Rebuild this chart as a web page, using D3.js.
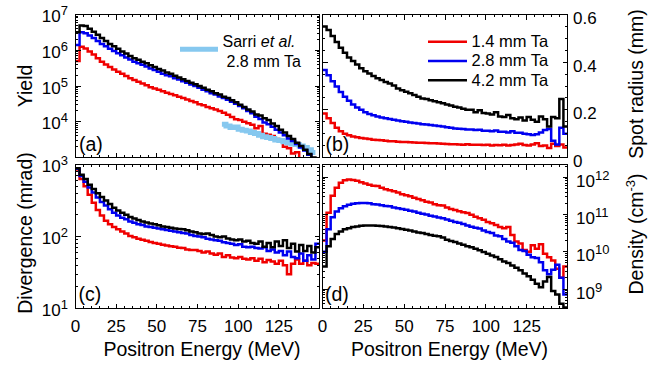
<!DOCTYPE html>
<html>
<head>
<meta charset="utf-8">
<script src="https://cdn.jsdelivr.net/npm/d3@7"></script>
<style>
  body { margin: 0; background: #fff; }
  svg { font-family: "Liberation Sans", Arial, Helvetica, sans-serif; }
</style>
</head>
<body>
<svg id="chart" width="662" height="365"></svg>
<script>
// energy bins (MeV), left edges of 2.5 MeV bins
const energy = [0,2.5,5,7.5,10,12.5,15,17.5,20,22.5,25,27.5,30,32.5,35,37.5,40,42.5,45,47.5,
  50,52.5,55,57.5,60,62.5,65,67.5,70,72.5,75,77.5,80,82.5,85,87.5,90,92.5,95,97.5,
  100,102.5,105,107.5,110,112.5,115,117.5,120,122.5,125,127.5,130,132.5,135,137.5,140,142.5,145,147.5];
const binWidth = 2.5;
const targets = ["1.4 mm Ta", "2.8 mm Ta", "4.2 mm Ta"];

// (a) yield
const yieldRed = [5.0e5,1.26e6,1.12e6,9.3e5,7.6e5,6.0e5,4.8e5,4.0e5,3.4e5,2.9e5,
  2.5e5,2.2e5,1.9e5,1.66e5,1.48e5,1.32e5,1.17e5,1.05e5,9.3e4,8.5e4,
  7.8e4,7.1e4,6.5e4,6.0e4,5.5e4,5.0e4,4.6e4,4.2e4,3.8e4,3.5e4,
  3.1e4,2.9e4,2.6e4,2.4e4,2.2e4,2.0e4,1.78e4,1.58e4,1.35e4,1.17e4,
  1.12e4,1.0e4,9.1e3,8.3e3,6.6e3,7.6e3,4.6e3,4.3e3,4.0e3,3.3e3,
  2.75e3,2.0e3,1.8e3,1.3e3,1.4e3,8e2];
const yieldBlue = [1.4e6,3.2e6,3.0e6,2.6e6,2.2e6,1.8e6,1.5e6,1.3e6,1.1e6,9.5e5,
  8.3e5,7.2e5,6.3e5,5.5e5,4.8e5,4.3e5,3.9e5,3.5e5,3.1e5,2.8e5,
  2.5e5,2.2e5,2.0e5,1.86e5,1.66e5,1.51e5,1.35e5,1.23e5,1.1e5,1.0e5,
  8.9e4,7.9e4,7.1e4,6.3e4,5.8e4,5.1e4,4.6e4,4.1e4,3.6e4,3.2e4,
  2.75e4,2.4e4,2.0e4,1.74e4,1.38e4,1.2e4,9.5e3,8.5e3,7.2e3,6.0e3,
  5.0e3,4.2e3,3.4e3,2.9e3,2.4e3,1.9e3,1.58e3,1.2e3,9.5e2,8e2];
const yieldBlack = [3.2e6,4.9e6,4.8e6,4.0e6,3.3e6,2.7e6,2.2e6,1.8e6,1.5e6,1.3e6,
  1.1e6,9.3e5,8.1e5,6.9e5,6.0e5,5.4e5,4.8e5,4.3e5,3.8e5,3.4e5,
  3.0e5,2.7e5,2.4e5,2.2e5,1.95e5,1.74e5,1.55e5,1.38e5,1.23e5,1.12e5,
  1.0e5,8.9e4,7.8e4,7.1e4,6.3e4,5.8e4,5.0e4,4.6e4,4.0e4,3.5e4,
  3.0e4,2.6e4,2.2e4,1.95e4,1.6e4,1.5e4,1.26e4,1.12e4,8.9e3,7.6e3,
  6.0e3,5.0e3,4.0e3,3.3e3,2.6e3,2.1e3,1.66e3,1.26e3,1.0e3,8e2];
const sarriEnergy = [90,92.5,95,97.5,100,102.5,105,107.5,110,112.5,115,117.5,120,122.5,125,127.5,130,132.5,135,137.5,140,142.5,145];
const sarriYield = [8.5e3,7.6e3,6.9e3,7.1e3,6.2e3,5.8e3,5.5e3,5.0e3,4.7e3,4.2e3,3.8e3,3.6e3,
  3.4e3,3.1e3,3.0e3,2.75e3,2.6e3,2.4e3,2.3e3,2.1e3,1.9e3,1.66e3,1.38e3];

// (b) spot radius (mm)
const spotRed = [0.185,0.165,0.145,0.125,0.11,0.1,0.093,0.088,0.085,0.082,
  0.08,0.078,0.075,0.073,0.072,0.07,0.068,0.068,0.066,0.065,
  0.065,0.064,0.063,0.062,0.062,0.061,0.06,0.06,0.059,0.058,
  0.057,0.056,0.056,0.055,0.054,0.056,0.054,0.053,0.054,0.052,
  0.053,0.05,0.052,0.051,0.053,0.05,0.052,0.055,0.058,0.052,
  0.05,0.055,0.06,0.048,0.05,0.04,0.058,0.048,0.055,0.042];
const spotBlue = [0.367,0.345,0.32,0.298,0.275,0.255,0.238,0.222,0.21,0.2,
  0.19,0.183,0.177,0.172,0.168,0.165,0.162,0.158,0.155,0.152,
  0.15,0.147,0.145,0.143,0.14,0.138,0.136,0.134,0.132,0.13,
  0.127,0.125,0.122,0.121,0.12,0.118,0.118,0.115,0.116,0.112,
  0.112,0.11,0.113,0.108,0.108,0.105,0.11,0.104,0.104,0.1,
  0.098,0.094,0.098,0.105,0.115,0.12,0.07,0.055,0.125,0.1];
const spotBlack = [0.55,0.535,0.51,0.485,0.46,0.44,0.42,0.405,0.39,0.375,
  0.362,0.352,0.342,0.333,0.325,0.317,0.31,0.302,0.29,0.282,
  0.276,0.27,0.262,0.255,0.248,0.245,0.24,0.236,0.232,0.228,
  0.222,0.218,0.213,0.21,0.205,0.2,0.2,0.19,0.198,0.187,
  0.185,0.18,0.19,0.172,0.17,0.178,0.165,0.16,0.168,0.155,
  0.17,0.158,0.15,0.172,0.16,0.13,0.17,0.165,0.245,0.13];

// (c) divergence (mrad)
const divRed = [850,630,500,380,295,234,195,166,148,135,
  126,117,110,102,98,93,90,87,84,81,
  79,77,75,73,72,70,69,66,65,65,
  63,60,62,58,56,58,52,55,51,50,
  52,49,48,50,46,49,44,47,45,42,
  46,40,30,42,48,42,46,40,43,42];
const divBlue = [870,690,575,479,407,347,302,269,240,214,
  195,182,174,162,155,148,145,138,135,132,
  129,126,123,120,117,115,112,110,105,102,
  100,98,93,91,89,87,83,81,79,76,
  78,72,71,72,69,68,71,63,66,60,
  63,55,62,52,50,58,46,55,48,79];
const divBlack = [890,720,630,525,457,398,355,316,282,251,
  229,214,200,186,178,170,162,157,151,148,
  143,138,135,132,129,127,126,122,117,115,
  110,108,110,105,100,98,100,94,91,89,
  91,85,87,81,79,85,72,81,71,85,
  74,89,69,79,62,76,63,74,60,71];

// (d) density (cm^-3)
const densRed = [2.0e10,1.12e11,3.2e11,5.2e11,7.1e11,8.3e11,8.7e11,8.5e11,8.1e11,7.4e11,
  6.8e11,6.3e11,5.9e11,5.8e11,5.2e11,4.8e11,4.5e11,4.2e11,3.9e11,3.5e11,
  3.3e11,3.1e11,2.8e11,2.6e11,2.4e11,2.2e11,2.1e11,1.9e11,1.78e11,1.74e11,
  1.55e11,1.41e11,1.32e11,1.23e11,1.15e11,1.1e11,9.8e10,8.7e10,7.9e10,7.2e10,
  6.3e10,5.8e10,5.2e10,4.6e10,4.3e10,4.6e10,2.8e10,1.9e10,1.66e10,1.12e10,
  1.0e10,1.5e10,1.2e10,1.58e10,8.9e9,7.1e9,5.8e9,3.5e9,2.0e9,4.0e9];
const densBlue = [1.0e10,4.0e10,8.5e10,1.2e11,1.48e11,1.66e11,1.82e11,1.95e11,2.0e11,2.04e11,
  2.04e11,2.0e11,1.9e11,1.86e11,1.78e11,1.7e11,1.66e11,1.55e11,1.48e11,1.41e11,
  1.35e11,1.26e11,1.2e11,1.12e11,1.05e11,1.0e11,9.3e10,8.9e10,8.3e10,7.9e10,
  7.4e10,6.8e10,6.3e10,6.0e10,5.6e10,5.1e10,4.7e10,4.4e10,4.2e10,3.7e10,
  3.4e10,3.2e10,2.75e10,2.6e10,2.2e10,1.9e10,1.74e10,1.41e10,1.12e10,1.05e10,
  8.3e9,7.1e9,6.8e9,5.2e9,3.2e9,2.5e9,3.3e9,4.5e9,2.0e9,7.1e8];
const densBlack = [4.0e9,1.41e10,2.2e10,3.0e10,3.5e10,4.0e10,4.3e10,4.6e10,4.8e10,5.0e10,
  5.1e10,5.1e10,5.1e10,5.0e10,4.9e10,4.8e10,4.6e10,4.5e10,4.3e10,4.1e10,
  3.9e10,3.7e10,3.5e10,3.3e10,3.2e10,3.0e10,2.8e10,2.7e10,2.6e10,2.4e10,
  2.1e10,1.95e10,1.82e10,1.66e10,1.55e10,1.41e10,1.32e10,1.2e10,1.1e10,9.8e9,
  8.9e9,7.9e9,7.2e9,6.3e9,5.5e9,5.0e9,4.3e9,3.7e9,3.2e9,2.6e9,
  2.2e9,1.78e9,1.38e9,1.12e9,1.58e9,2.1e9,8.9e8,7.1e8,4.0e8,3.2e8];

// tick labels (the 10^3 between (a) and (c) is shown once, on (c))
const energyTicks = [0, 25, 50, 75, 100, 125];
const yieldTicks = [1e4, 1e5, 1e6, 1e7];
const spotTicks = [0, 0.2, 0.4, 0.6];
const divTicks = [10, 100, 1000];
const densTicks = [1e9, 1e10, 1e11, 1e12];

const RED = "#f00000", BLUE = "#0000f0", BLACK = "#000000", SKY = "#86c8ef";

const svg = d3.select("#chart");

const xLeft = d3.scaleLinear().domain([0, 150]).range([75.5, 319.5]);
const xRight = d3.scaleLinear().domain([0, 150]).range([322.5, 567.5]);
const yYield = d3.scaleLog().domain([1e3, 1e7]).range([157.5, 14.5]);
const ySpot = d3.scaleLinear().domain([0, 0.6]).range([157.5, 14.5]);
const yDiv = d3.scaleLog().domain([10, 1000]).range([308.5, 164.5]);
const yDens = d3.scaleLog().domain([3e8, 2.2e12]).range([308.5, 164.5]);

const stepPoints = (xs, vs) => {
  const pts = vs.map((v, i) => [xs[i], v]);
  pts.push([xs[vs.length - 1] + binWidth, vs[vs.length - 1]]);
  return pts;
};

const isPow10 = v => Math.abs(Math.log10(v) - Math.round(Math.log10(v))) < 1e-6;

function drawPanel(p) {
  const [x0, x1] = p.x.range();
  const [yb, yt] = p.y.range();
  const g = svg.append("g");

  const clipId = "clip-" + p.name;
  svg.append("clipPath").attr("id", clipId)
    .append("rect").attr("x", x0).attr("y", yt).attr("width", x1 - x0).attr("height", yb - yt);

  const line = d3.line()
    .x(d => p.x(d[0]))
    .y(d => p.y(d[1]))
    .curve(d3.curveStepAfter);

  const plot = g.append("g").attr("clip-path", `url(#${clipId})`);
  p.series.forEach(s => {
    plot.append("path")
      .datum(stepPoints(s.x, s.values))
      .attr("d", line)
      .attr("fill", "none")
      .attr("stroke", s.color)
      .attr("stroke-width", s.width || 2.5)
      .attr("stroke-linejoin", "miter");
  });

  // ticks, all inward
  const ticks = g.append("g").attr("stroke", "#000").attr("stroke-width", 1).attr("shape-rendering", "crispEdges");
  const xMinor = d3.range(0, 151, 5);
  xMinor.forEach(v => {
    const len = v % 25 === 0 ? 5 : 2.5;
    const xx = p.x(v);
    ticks.append("line").attr("x1", xx).attr("x2", xx).attr("y1", yb).attr("y2", yb - len);
    ticks.append("line").attr("x1", xx).attr("x2", xx).attr("y1", yt).attr("y2", yt + len);
  });
  let yMarks;
  if (p.log) {
    yMarks = p.y.ticks().filter(v => v >= p.y.domain()[0] && v <= p.y.domain()[1])
      .map(v => [v, isPow10(v) ? 5 : 2.5]);
  } else {
    yMarks = d3.range(0, 0.61, 0.05).map(v => [v, Math.abs(v / 0.2 - Math.round(v / 0.2)) < 1e-6 ? 5 : 2.5]);
  }
  yMarks.forEach(([v, len]) => {
    const yy = p.y(v);
    ticks.append("line").attr("x1", x0).attr("x2", x0 + len).attr("y1", yy).attr("y2", yy);
    ticks.append("line").attr("x1", x1).attr("x2", x1 - len).attr("y1", yy).attr("y2", yy);
  });

  g.append("rect")
    .attr("x", x0).attr("y", yt).attr("width", x1 - x0).attr("height", yb - yt)
    .attr("fill", "none").attr("stroke", "#000").attr("stroke-width", 1)
    .attr("shape-rendering", "crispEdges");

  // y tick labels
  const lab = g.append("g").attr("font-size", 17).attr("fill", "#000");
  p.yLabels.forEach(v => {
    const right = p.labelSide === "right";
    const t = lab.append("text")
      .attr("x", right ? x1 + (p.log ? 8.5 : 5.5) : x0 - 7.5)
      .attr("y", p.y(v) + (right ? 9.5 : 7.5))
      .attr("text-anchor", right ? "start" : "end");
    if (p.log) {
      t.append("tspan").text("10");
      t.append("tspan").attr("font-size", 13).attr("dy", -7).text(Math.round(Math.log10(v)));
    } else {
      t.text(v === 0 ? "0" : d3.format(".1f")(v));
    }
  });

  if (p.bottom) {
    lab.selectAll(".xl").data(energyTicks).join("text")
      .attr("x", d => p.x(d)).attr("y", 331.5)
      .attr("text-anchor", "middle").text(d => d);
    svg.append("text")
      .attr("x", (x0 + x1) / 2 + 4.5).attr("y", 355.5)
      .attr("text-anchor", "middle").attr("font-size", 19.5)
      .text("Positron Energy (MeV)");
  }

  svg.append("text").attr("x", p.tag[0]).attr("y", p.tag[1])
    .attr("font-size", 19.5).text("(" + p.name + ")");
}

drawPanel({
  name: "a", x: xLeft, y: yYield, log: true, yLabels: yieldTicks, labelSide: "left", tag: [79, 150.5],
  series: [
    { x: energy, values: yieldRed, color: RED },
    { x: sarriEnergy, values: sarriYield, color: SKY, width: 5 },
    { x: energy, values: yieldBlue, color: BLUE },
    { x: energy, values: yieldBlack, color: BLACK }
  ]
});
drawPanel({
  name: "b", x: xRight, y: ySpot, log: false, yLabels: spotTicks, labelSide: "right", tag: [325.5, 151],
  series: [
    { x: energy, values: spotRed, color: RED },
    { x: energy, values: spotBlue, color: BLUE },
    { x: energy, values: spotBlack, color: BLACK }
  ]
});
drawPanel({
  name: "c", x: xLeft, y: yDiv, log: true, yLabels: divTicks, labelSide: "left", tag: [78.5, 300.5], bottom: true,
  series: [
    { x: energy, values: divRed, color: RED },
    { x: energy, values: divBlue, color: BLUE },
    { x: energy, values: divBlack, color: BLACK }
  ]
});
drawPanel({
  name: "d", x: xRight, y: yDens, log: true, yLabels: densTicks, labelSide: "right", tag: [325, 300.5], bottom: true,
  series: [
    { x: energy, values: densRed, color: RED },
    { x: energy, values: densBlue, color: BLUE },
    { x: energy, values: densBlack, color: BLACK }
  ]
});

// axis titles
const titleSize = 19.5;
svg.append("text").attr("transform", "translate(32,86) rotate(-90)")
  .attr("text-anchor", "middle").attr("font-size", titleSize).text("Yield");
svg.append("text").attr("transform", "translate(32,233) rotate(-90)")
  .attr("text-anchor", "middle").attr("font-size", titleSize).text("Divergence (mrad)");
svg.append("text").attr("transform", "translate(643,84) rotate(-90)")
  .attr("text-anchor", "middle").attr("font-size", titleSize).text("Spot radius (mm)");
const dens = svg.append("text").attr("transform", "translate(643,234) rotate(-90)")
  .attr("text-anchor", "middle").attr("font-size", titleSize);
dens.append("tspan").text("Density (cm");
dens.append("tspan").attr("font-size", 13).attr("dy", -8).text("-3");
dens.append("tspan").attr("dy", 8).text(")");

// legend in (b)
const legend = svg.append("g").attr("font-size", 16.5);
[RED, BLUE, BLACK].forEach((c, i) => {
  const yy = [41.7, 61, 80.3][i];
  legend.append("line").attr("x1", 428).attr("x2", 467).attr("y1", yy).attr("y2", yy)
    .attr("stroke", c).attr("stroke-width", 2.5);
  legend.append("text").attr("x", 471.5).attr("y", yy + 5.2).text(targets[i]);
});

// Sarri legend in (a)
svg.append("line").attr("x1", 180).attr("x2", 218).attr("y1", 49.3).attr("y2", 49.3)
  .attr("stroke", SKY).attr("stroke-width", 5);
const sarri = svg.append("text").attr("x", 222.5).attr("y", 46.5).attr("font-size", 16);
sarri.append("tspan").text("Sarri ");
sarri.append("tspan").attr("font-style", "italic").text("et al.");
svg.append("text").attr("x", 226.5).attr("y", 66.5).attr("font-size", 16).text("2.8 mm Ta");
</script>
</body>
</html>
